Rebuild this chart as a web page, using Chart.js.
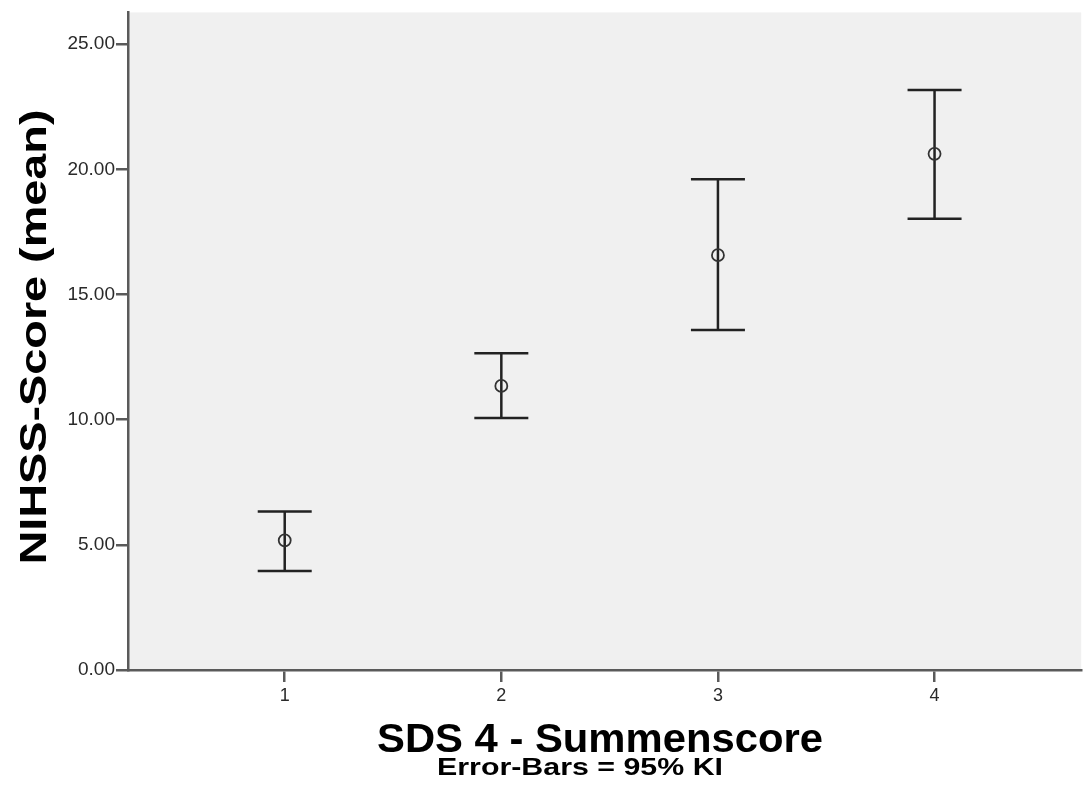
<!DOCTYPE html>
<html>
<head>
<meta charset="utf-8">
<script src="https://cdn.jsdelivr.net/npm/chart.js@4.4.1/dist/chart.umd.min.js"></script>
<style>
  html, body { margin: 0; padding: 0; background: #fff; overflow: hidden; }
  #wrap { position: relative; width: 1089px; height: 789px; }
</style>
</head>
<body>
<div id="wrap"><canvas id="chart"></canvas></div>
<script>
// SDS 4 summenscore groups, NIHSS means with 95% CI
const categories = ["1", "2", "3", "4"];
const means = [5.18, 11.35, 16.57, 20.62];
const lower = [3.95, 10.07, 13.58, 18.03];
const upper = [6.33, 12.65, 19.60, 23.17];
const yTicks = [0, 5, 10, 15, 20, 25];

const xTitle = "SDS 4 - Summenscore";
const xSubtitle = "Error-Bars = 95% KI";
const yTitle = "NIHSS-Score (mean)";

const FONT = "'Liberation Sans', Arial, sans-serif";
const INK = "#222";
const AXIS = "#5a5a5a";

const plotBg = {
  id: "plotBg",
  beforeDraw(chart) {
    const { ctx, chartArea: a } = chart;
    ctx.save();
    ctx.fillStyle = "#f0f0f0";
    ctx.fillRect(a.left, a.top, a.right - a.left, a.bottom - a.top);
    ctx.restore();
  }
};

const errorBars = {
  id: "errorBars",
  beforeDatasetsDraw(chart) {
    const { ctx, scales: { x, y } } = chart;
    ctx.save();
    ctx.strokeStyle = INK;
    ctx.lineWidth = 2.5;
    ctx.lineCap = "butt";
    categories.forEach((c, i) => {
      const px = x.getPixelForValue(i + 1);
      const top = y.getPixelForValue(upper[i]);
      const bot = y.getPixelForValue(lower[i]);
      ctx.beginPath();
      ctx.moveTo(px, top);
      ctx.lineTo(px, bot);
      ctx.moveTo(px - 27, top);
      ctx.lineTo(px + 27, top);
      ctx.moveTo(px - 27, bot);
      ctx.lineTo(px + 27, bot);
      ctx.stroke();
    });
    ctx.restore();
  }
};

// text in the reference is set wider than Arial, so stretch to the measured width
function wideText(ctx, text, font, width) {
  ctx.font = font;
  const w = ctx.measureText(text).width;
  ctx.save();
  ctx.scale(width / w, 1);
  ctx.fillText(text, 0, 0);
  ctx.restore();
}

const titles = {
  id: "titles",
  afterDraw(chart) {
    const { ctx, chartArea: a } = chart;
    ctx.save();
    ctx.fillStyle = "#000";
    ctx.textAlign = "center";
    ctx.textBaseline = "alphabetic";

    ctx.save();
    ctx.translate(600, a.bottom + 82);
    wideText(ctx, xTitle, "bold 40px " + FONT, 446);
    ctx.restore();

    ctx.save();
    ctx.translate(580, a.bottom + 105);
    wideText(ctx, xSubtitle, "bold 24px " + FONT, 286);
    ctx.restore();

    ctx.save();
    ctx.translate(46, 337);
    ctx.rotate(-Math.PI / 2);
    wideText(ctx, yTitle, "bold 36px " + FONT, 455);
    ctx.restore();

    ctx.restore();
  }
};

new Chart(document.getElementById("chart"), {
  type: "scatter",
  data: {
    datasets: [{
      label: "NIHSS mean",
      data: means.map((m, i) => ({ x: i + 1, y: m })),
      pointStyle: "circle",
      pointRadius: 6,
      pointHoverRadius: 6,
      borderColor: "#333",
      borderWidth: 1.8,
      backgroundColor: "rgba(0,0,0,0)"
    }]
  },
  options: {
    responsive: true,
    maintainAspectRatio: false,
    animation: false,
    layout: { padding: { top: 10, right: 0, left: 0, bottom: 0 } },
    plugins: { legend: { display: false }, tooltip: { enabled: false } },
    scales: {
      x: {
        type: "linear",
        min: 0.2765,
        max: 4.677,
        afterFit(s) { s.height = 119; },
        afterBuildTicks(s) { s.ticks = categories.map((c, i) => ({ value: i + 1 })); },
        border: { color: AXIS, width: 2.5 },
        grid: { drawOnChartArea: false, drawTicks: true, tickLength: 12, color: AXIS, lineWidth: 2.5 },
        ticks: {
          padding: 3,
          color: "#2a2a2a",
          font: { family: FONT, size: 18 },
          callback: v => categories[v - 1]
        }
      },
      y: {
        min: 0,
        max: 26.27,
        afterFit(s) { s.width = 128; },
        afterBuildTicks(s) { s.ticks = yTicks.map(v => ({ value: v })); },
        border: { color: AXIS, width: 2.5 },
        grid: { drawOnChartArea: false, drawTicks: true, tickLength: 12, color: AXIS, lineWidth: 2.5 },
        ticks: {
          padding: 1,
          color: "#2a2a2a",
          font: { family: FONT, size: 19 },
          callback: v => v.toFixed(2)
        }
      }
    }
  },
  plugins: [plotBg, errorBars, titles]
});
</script>
</body>
</html>
